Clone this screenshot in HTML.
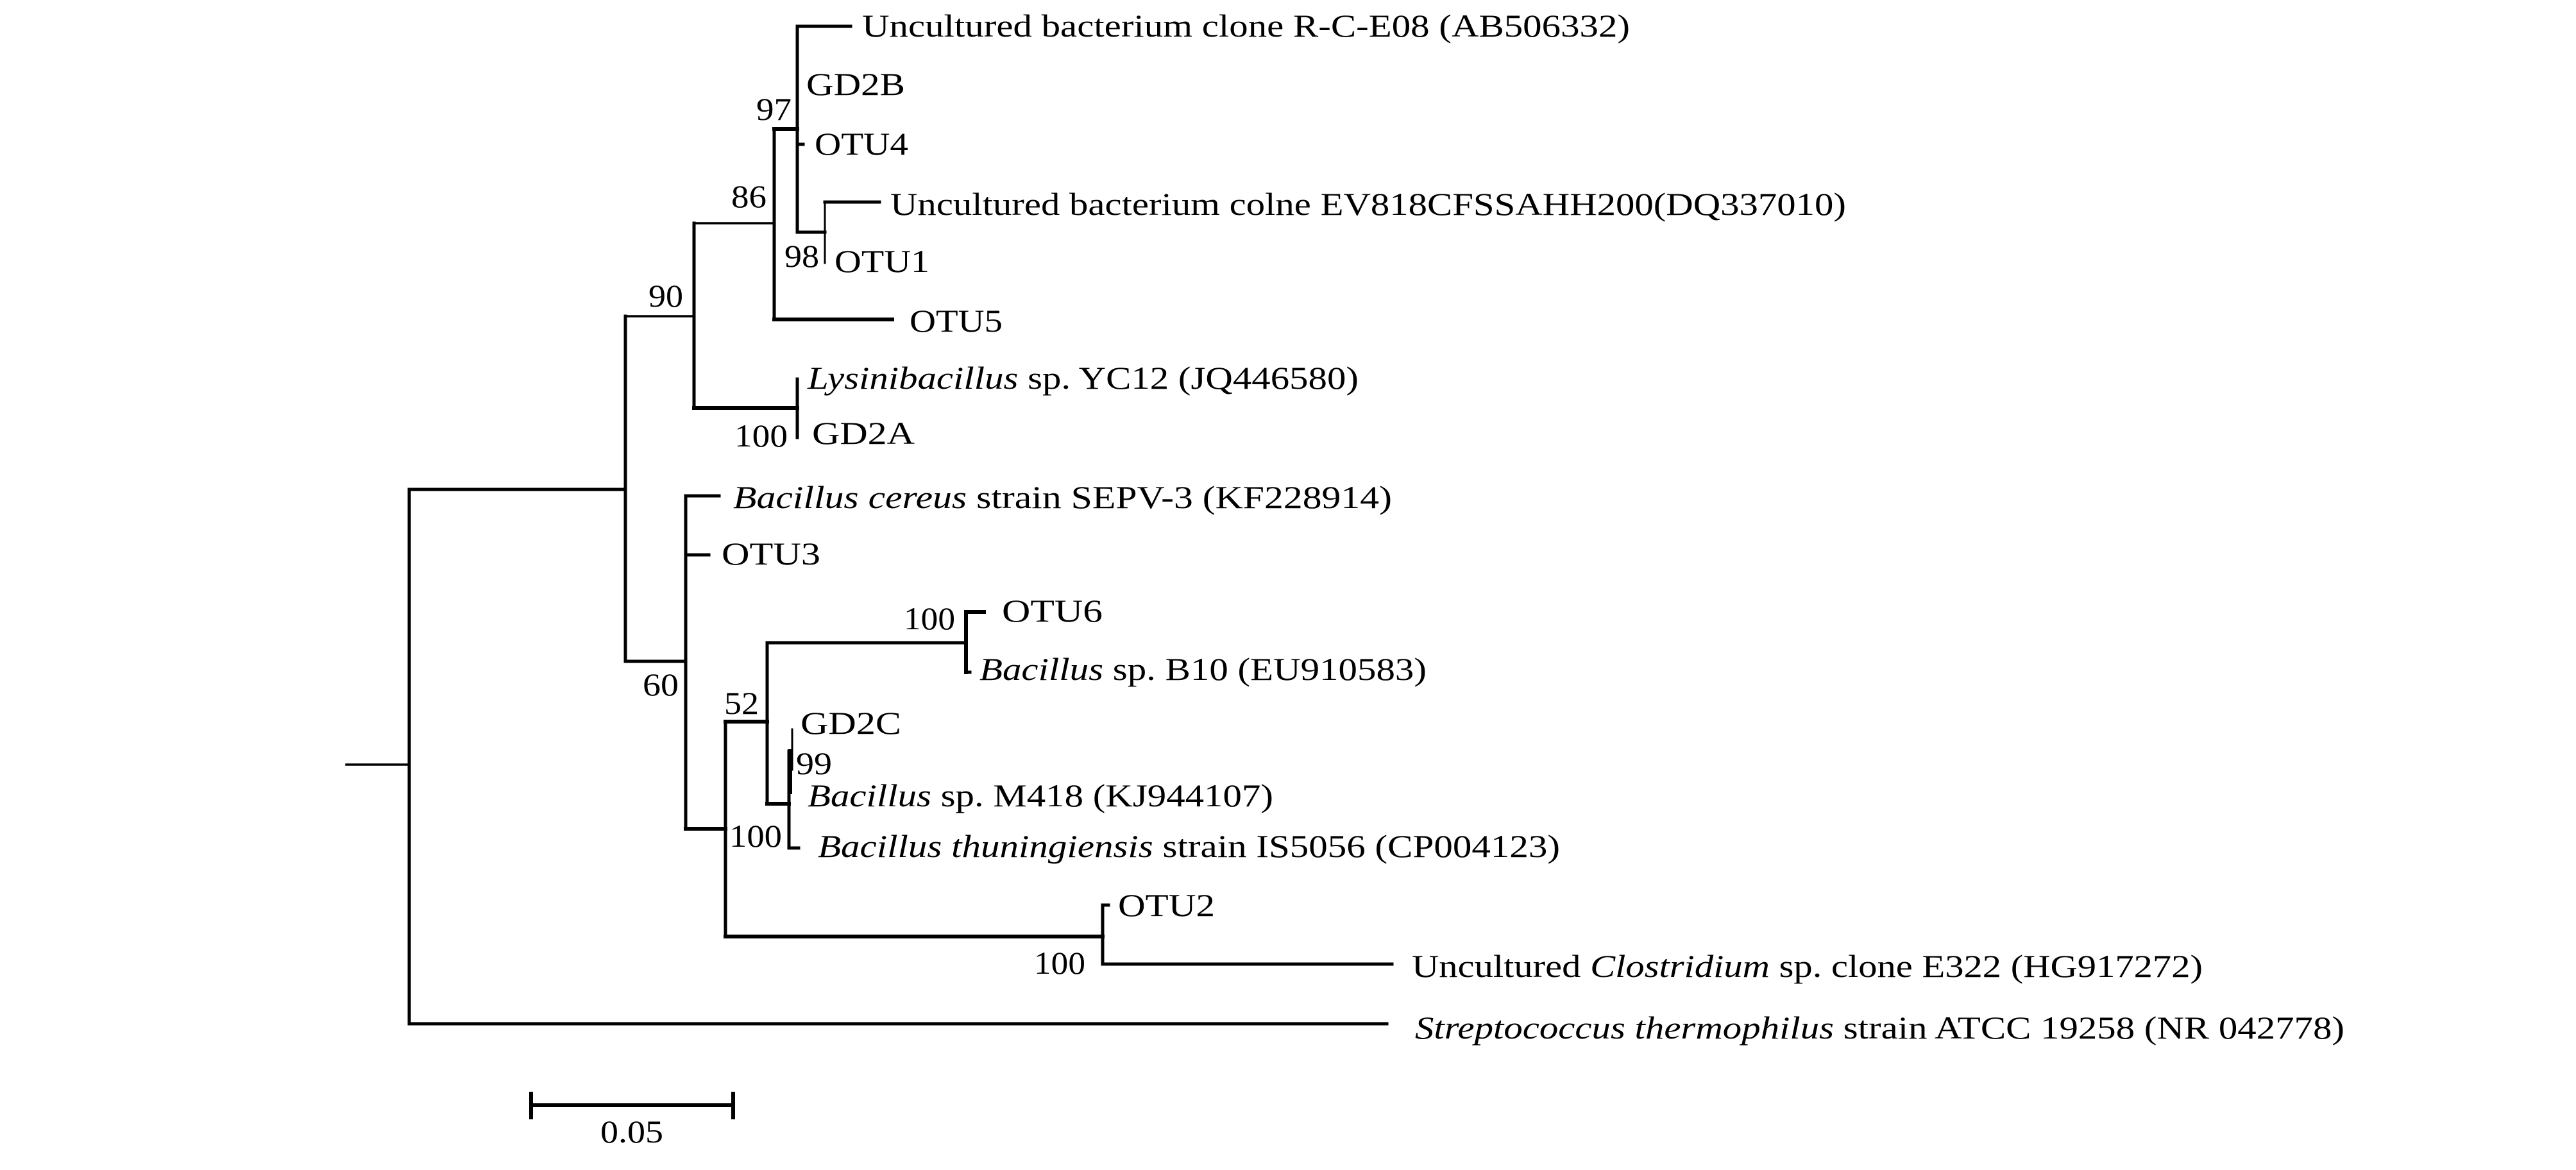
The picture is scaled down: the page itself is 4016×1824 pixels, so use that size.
<!DOCTYPE html>
<html><head><meta charset="utf-8"><style>
html,body{margin:0;padding:0;background:#fff}
svg{display:block}
text{font-family:"Liberation Serif","Times New Roman",serif;font-size:50px;fill:#000}
</style></head><body>
<svg width="4016" height="1824" viewBox="0 0 4016 1824" xmlns="http://www.w3.org/2000/svg">
<g stroke="#000" stroke-width="5" fill="none" stroke-linecap="square">
<line x1="540" y1="1192" x2="638" y2="1192" stroke-width="3.5"/>
<line x1="638" y1="763" x2="638" y2="1596"/>
<line x1="638" y1="763" x2="975" y2="763"/>
<line x1="638" y1="1596" x2="2162" y2="1596"/>
<line x1="975" y1="493" x2="975" y2="1031"/>
<line x1="975" y1="493" x2="1082" y2="493" stroke-width="3.5"/>
<line x1="975" y1="1031" x2="1069" y2="1031"/>
<line x1="1082" y1="348" x2="1082" y2="636"/>
<line x1="1082" y1="348" x2="1207" y2="348" stroke-width="3.5"/>
<line x1="1082" y1="636" x2="1243" y2="636" stroke-width="6"/>
<line x1="1243" y1="591" x2="1243" y2="682"/>
<line x1="1207" y1="201" x2="1207" y2="498"/>
<line x1="1207" y1="201" x2="1243" y2="201" stroke-width="6"/>
<line x1="1207" y1="498" x2="1391" y2="498" stroke-width="6"/>
<line x1="1243" y1="41" x2="1243" y2="362"/>
<line x1="1243" y1="41" x2="1326" y2="41"/>
<line x1="1243" y1="225" x2="1252" y2="225"/>
<line x1="1243" y1="362" x2="1286" y2="362"/>
<line x1="1286" y1="315" x2="1286" y2="410" stroke-width="3"/>
<line x1="1286" y1="315" x2="1371" y2="315"/>
<line x1="1069" y1="773" x2="1069" y2="1292"/>
<line x1="1069" y1="773" x2="1121" y2="773"/>
<line x1="1069" y1="865" x2="1105" y2="865"/>
<line x1="1069" y1="1292" x2="1131" y2="1292" stroke-width="6"/>
<line x1="1131" y1="1125" x2="1131" y2="1460"/>
<line x1="1131" y1="1125" x2="1196" y2="1125" stroke-width="6"/>
<line x1="1131" y1="1460" x2="1719" y2="1460" stroke-width="6"/>
<line x1="1196" y1="1002" x2="1196" y2="1253"/>
<line x1="1196" y1="1002" x2="1506" y2="1002"/>
<line x1="1506" y1="954" x2="1506" y2="1048" stroke-width="6"/>
<line x1="1506" y1="954" x2="1534" y2="954" stroke-width="6"/>
<line x1="1506" y1="1048" x2="1512" y2="1048"/>
<line x1="1196" y1="1253" x2="1230" y2="1253" stroke-width="6"/>
<line x1="1230" y1="1171" x2="1230" y2="1322"/>
<line x1="1232" y1="1171" x2="1232" y2="1235" stroke-width="6"/>
<line x1="1235" y1="1137" x2="1235" y2="1200" stroke-width="3"/>
<line x1="1230" y1="1322" x2="1245" y2="1322"/>
<line x1="1719" y1="1411" x2="1719" y2="1503"/>
<line x1="1719" y1="1411" x2="1728" y2="1411"/>
<line x1="1719" y1="1503" x2="2170" y2="1503"/>
<line x1="828" y1="1723" x2="1143" y2="1723" stroke-width="6"/>
<line x1="828" y1="1705" x2="828" y2="1742" stroke-width="6"/>
<line x1="1143" y1="1705" x2="1143" y2="1742" stroke-width="6"/>
</g>
<g>
<text x="1344" y="57" textLength="1197" lengthAdjust="spacingAndGlyphs">Uncultured bacterium clone R-C-E08 (AB506332)</text>
<text x="1257" y="148" textLength="154" lengthAdjust="spacingAndGlyphs">GD2B</text>
<text x="1270" y="241" textLength="146" lengthAdjust="spacingAndGlyphs">OTU4</text>
<text x="1388" y="335" textLength="1490" lengthAdjust="spacingAndGlyphs">Uncultured bacterium colne EV818CFSSAHH200(DQ337010)</text>
<text x="1301" y="424" textLength="148" lengthAdjust="spacingAndGlyphs">OTU1</text>
<text x="1418" y="517" textLength="145" lengthAdjust="spacingAndGlyphs">OTU5</text>
<text x="1259" y="606" textLength="859" lengthAdjust="spacingAndGlyphs"><tspan font-style="italic">Lysinibacillus</tspan> sp. YC12 (JQ446580)</text>
<text x="1266" y="692" textLength="160" lengthAdjust="spacingAndGlyphs">GD2A</text>
<text x="1143" y="792" textLength="1027" lengthAdjust="spacingAndGlyphs"><tspan font-style="italic">Bacillus cereus</tspan> strain  SEPV-3 (KF228914)</text>
<text x="1125" y="880" textLength="154" lengthAdjust="spacingAndGlyphs">OTU3</text>
<text x="1562" y="969" textLength="157" lengthAdjust="spacingAndGlyphs">OTU6</text>
<text x="1527" y="1060" textLength="697" lengthAdjust="spacingAndGlyphs"><tspan font-style="italic">Bacillus</tspan> sp. B10 (EU910583)</text>
<text x="1248" y="1144" textLength="157" lengthAdjust="spacingAndGlyphs">GD2C</text>
<text x="1259" y="1257" textLength="726" lengthAdjust="spacingAndGlyphs"><tspan font-style="italic">Bacillus</tspan> sp. M418 (KJ944107)</text>
<text x="1275" y="1336" textLength="1157" lengthAdjust="spacingAndGlyphs"><tspan font-style="italic">Bacillus thuningiensis</tspan> strain IS5056 (CP004123)</text>
<text x="1743" y="1428" textLength="151" lengthAdjust="spacingAndGlyphs">OTU2</text>
<text x="2201" y="1523" textLength="1233" lengthAdjust="spacingAndGlyphs">Uncultured <tspan font-style="italic">Clostridium</tspan> sp. clone E322 (HG917272)</text>
<text x="2206" y="1619" textLength="1449" lengthAdjust="spacingAndGlyphs"><tspan font-style="italic">Streptococcus thermophilus</tspan> strain ATCC 19258 (NR 042778)</text>
<text x="1179" y="187" textLength="55" lengthAdjust="spacingAndGlyphs">97</text>
<text x="1140" y="323" textLength="55" lengthAdjust="spacingAndGlyphs">86</text>
<text x="1223" y="416" textLength="54" lengthAdjust="spacingAndGlyphs">98</text>
<text x="1011" y="478" textLength="54" lengthAdjust="spacingAndGlyphs">90</text>
<text x="1145" y="696" textLength="83" lengthAdjust="spacingAndGlyphs">100</text>
<text x="1409" y="981" textLength="80" lengthAdjust="spacingAndGlyphs">100</text>
<text x="1002" y="1084" textLength="56" lengthAdjust="spacingAndGlyphs">60</text>
<text x="1129" y="1113" textLength="54" lengthAdjust="spacingAndGlyphs">52</text>
<text x="1241" y="1207" textLength="56" lengthAdjust="spacingAndGlyphs">99</text>
<text x="1137" y="1320" textLength="82" lengthAdjust="spacingAndGlyphs">100</text>
<text x="1612" y="1518" textLength="80" lengthAdjust="spacingAndGlyphs">100</text>
<text x="936" y="1781" textLength="98" lengthAdjust="spacingAndGlyphs">0.05</text>
</g>
</svg>
</body></html>
